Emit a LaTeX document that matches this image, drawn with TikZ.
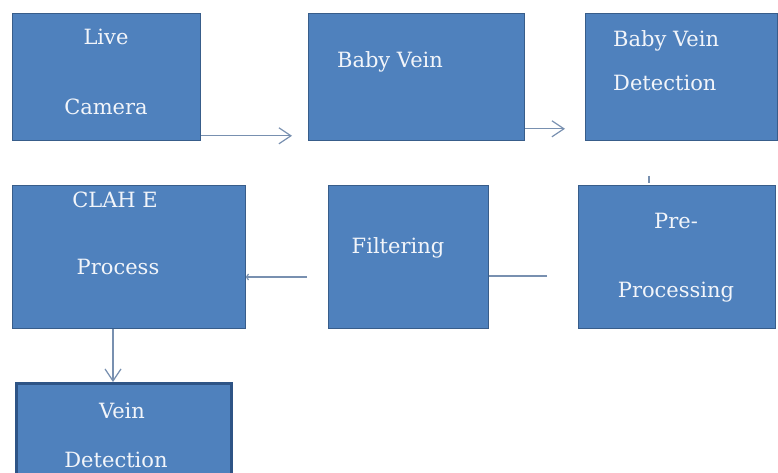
\documentclass[tikz,border=0pt]{standalone}
\usepackage{fontspec}
\setmainfont{DejaVu Serif}
\usetikzlibrary{arrows.meta,positioning,calc}
\definecolor{boxblue}{HTML}{4F81BD}
\definecolor{boxedge}{HTML}{385D8A}
\definecolor{veinedge}{HTML}{2E5486}
\definecolor{linegrey}{HTML}{7890B0}
\definecolor{txtwhite}{HTML}{F2F5FA}

\begin{document}
\begin{tikzpicture}[x=1pt,y=-1pt,
    blk/.style={draw=boxedge, line width=0.8pt, fill=boxblue, inner sep=0pt, anchor=north west},
    lbl/.style={text=txtwhite, font=\fontsize{21}{25}\selectfont, inner sep=0pt, anchor=base},
    conn/.style={draw=linegrey, line width=1.2pt},
    arr/.style={conn, -{Straight Barb[length=12pt,width=16pt]}}]
            \useasboundingbox[fill=white] (0,0) rectangle (778,473);
            % Row 1: boxes
            \node[blk, minimum width=188pt, minimum height=127pt] (live) at (12,13) {};
            \node[blk, minimum width=216pt, minimum height=127pt] (bv) at (308,13) {};
            \node[blk, minimum width=192pt, minimum height=127pt] (bvd) at (585,13) {};
            % Row 2: boxes
            \node[blk, minimum width=233pt, minimum height=143pt] (clahe) at (12,185) {};
            \node[blk, minimum width=160pt, minimum height=143pt] (filt) at (328,185) {};
            \node[blk, minimum width=197pt, minimum height=143pt] (pre) at (578,185) {};
            % Row 3: box
            \node[blk, draw=veinedge, line width=3pt, minimum width=215pt, minimum height=100pt] (vein) at (15,382) {};
            % labels
            \node[lbl] (liveA) at (106,45) {Live};
            \node[lbl] (liveB) at (106,115) {Camera};
            \node[lbl] (bvA) at (390,68) {Baby Vein};
            \node[lbl, anchor=base west] (bvdA) at (613,47) {Baby Vein};
            \node[lbl, anchor=base west] (bvdB) at (613,91) {Detection};
            \node[lbl] (preA) at (676,228) {Pre-};
            \node[lbl] (preB) at (676,297) {Processing};
            \node[lbl] (filtA) at (398,253) {Filtering};
            \node[lbl] (claheA) at (115,207) {CLAH E};
            \node[lbl] (claheB) at (118,274) {Process};
            \node[lbl] (veinA) at (122,418) {Vein};
            \node[lbl] (veinB) at (116,467) {Detection};
            % connectors
            \draw[arr] ($(live.south east)+(0,-5)$) -- ($(bv.south west)+(-16,-5)$);
            \draw[arr] ($(bv.south east)+(0,-12)$) -- ($(bvd.south west)+(-20,-12)$);
            \coordinate (t1) at ($(bvd.south west)+(64,35)$);
            \coordinate (t2) at ($(pre.north west)+(71,-2)$);
            \draw[conn] (t1) -- (t2);
            \coordinate (p1) at (547,276);
            \draw[conn] (p1) -- (filt.east |- p1);
            \coordinate (f1) at (307,277);
            \draw[conn, -{Straight Barb[length=2pt,width=6pt]}] (f1) -- (clahe.east |- f1);
            \draw[arr] (clahe.south -| 113,0) -- (vein.north -| 113,0);
\end{tikzpicture}
\end{document}
